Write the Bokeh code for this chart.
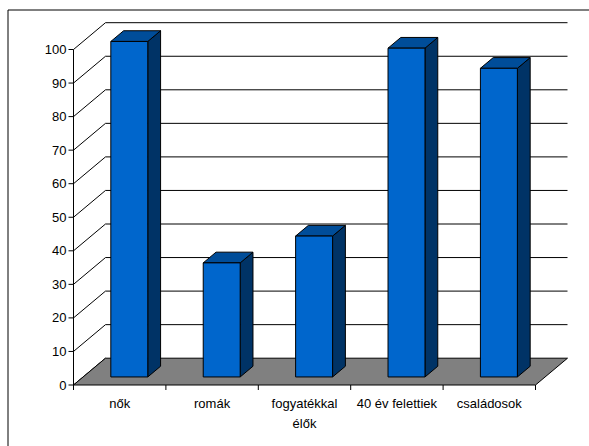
from bokeh.plotting import figure
from bokeh.models import Range1d
from bokeh.embed import file_html
from bokeh.resources import INLINE
from bokeh.core.properties import value

# ---- data ----
categories = ["nők", "romák", "fogyatékkal\nélők", "40 év felettiek", "családosok"]
values = [100, 34, 42, 98, 92]
y_ticks = [0, 10, 20, 30, 40, 50, 60, 70, 80, 90, 100]

# ---- layout constants (pixels) ----
PX_X = 92.4      # pixels per category
PX_Y = 3.355     # pixels per value unit
DX = 32 / PX_X   # depth offset in x (data units)
DY = 26.8 / PX_Y  # depth offset in y (data units)
W, H = 589, 446
LEFT, TOP = 7, 9
ORIGIN_X, ORIGIN_Y = 73, 384.5

x_start = (0 - ORIGIN_X) / PX_X
x_end = x_start + W / PX_X
y_end = ORIGIN_Y / PX_Y
y_start = y_end - H / PX_Y

p = figure(width=W, height=H, output_backend="svg", toolbar_location=None,
           x_range=Range1d(x_start, x_end), y_range=Range1d(y_start, y_end),
           x_axis_type=None, y_axis_type=None,
           min_border=0)
p.grid.visible = False
p.outline_line_color = None
p.background_fill_color = "white"
p.border_fill_color = "white"

# chart area border (left and top edges visible in the window)
bx = (LEFT + 0.5 - ORIGIN_X) / PX_X
by = (ORIGIN_Y - TOP - 0.5) / PX_Y
p.segment(x0=[bx, bx], y0=[by, by], x1=[bx, x_end + 1], y1=[y_start - 1, by],
          line_color="black", line_width=1)

n = len(categories)
ymax = y_ticks[-1]

# back wall gridlines
gl = [t for t in y_ticks if t > 0]
p.segment(x0=[DX] * len(gl), y0=[t + DY for t in gl], x1=[n + DX] * len(gl),
          y1=[t + DY for t in gl], line_color="black", line_width=1)
# left wall diagonals
p.segment(x0=[0] * len(y_ticks), y0=y_ticks, x1=[DX] * len(y_ticks),
          y1=[t + DY for t in y_ticks], line_color="black", line_width=1)

# floor
p.patch([0, n, n + DX, DX], [0, 0, DY, DY], fill_color="#808080",
        line_color="black", line_width=1)

# bars
d0, d1 = 0.3, 0.7
fx0 = [i + 0.3 + d0 * DX for i in range(n)]
fx1 = [i + 0.7 + d0 * DX for i in range(n)]
fy0 = [d0 * DY] * n
fy1 = [v + d0 * DY for v in values]
ox, oy = (d1 - d0) * DX, (d1 - d0) * DY

top_xs = [[a, b, b + ox, a + ox] for a, b in zip(fx0, fx1)]
top_ys = [[t, t, t + oy, t + oy] for t in fy1]
side_xs = [[b, b + ox, b + ox, b] for b in fx1]
side_ys = [[y0, y0 + oy, t + oy, t] for y0, t in zip(fy0, fy1)]

p.patches(side_xs, side_ys, fill_color="#003366", line_color="black", line_width=1)
p.patches(top_xs, top_ys, fill_color="#004D99", line_color="black", line_width=1)
p.quad(left=fx0, right=fx1, bottom=fy0, top=fy1, fill_color="#0066CC",
       line_color="black", line_width=1)

# y axis line and ticks
p.segment(x0=[0], y0=[0], x1=[0], y1=[ymax], line_color="black", line_width=1)
p.segment(x0=[-5 / PX_X] * len(y_ticks), y0=y_ticks, x1=[0] * len(y_ticks),
          y1=y_ticks, line_color="black", line_width=1)
p.text(x=[0] * len(y_ticks), y=y_ticks, text=[str(t) for t in y_ticks],
       x_offset=-7, text_align="right", text_baseline="middle",
       text_font=value("Liberation Sans"), text_font_size="13px", text_color="black")

# x axis ticks
p.segment(x0=list(range(n + 1)), y0=[0] * (n + 1), x1=list(range(n + 1)),
          y1=[-5 / PX_Y] * (n + 1), line_color="black", line_width=1)
p.text(x=[i + 0.5 for i in range(n)], y=[-11 / PX_Y] * n, text=categories,
       text_align="center", text_baseline="top", text_line_height=1.3,
       text_font=value("Liberation Sans"), text_font_size="13px", text_color="black")

open("out.html", "w").write(file_html(p, INLINE))
